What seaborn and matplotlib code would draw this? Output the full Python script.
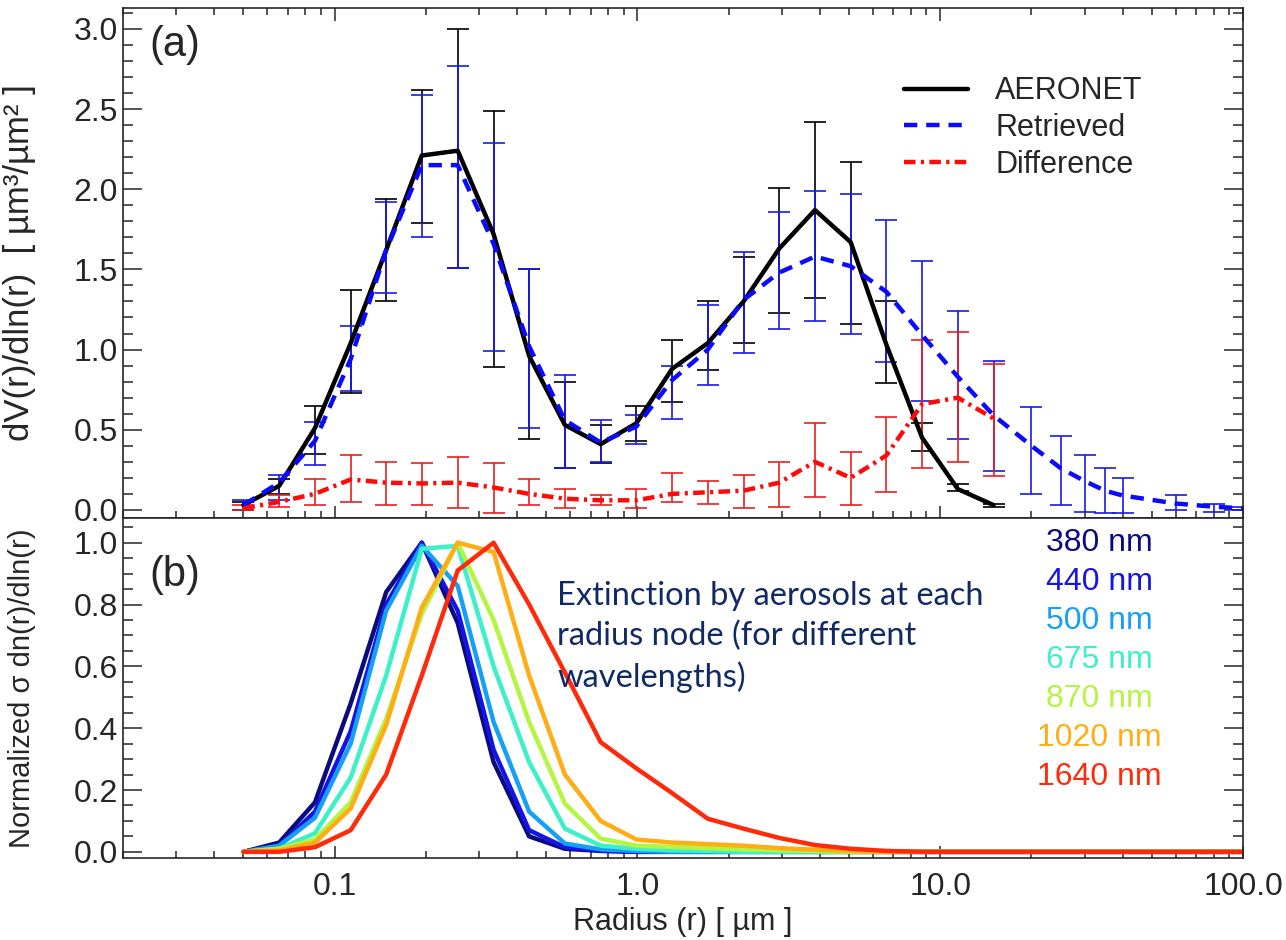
import matplotlib
matplotlib.use("Agg")
import matplotlib.pyplot as plt
import seaborn as sns
import numpy as np
import pandas as pd
from matplotlib.ticker import FixedLocator, LogLocator, MultipleLocator, NullFormatter

# radius nodes (AERONET 22 bins) and the extra retrieval nodes beyond 15 um
radius = [0.05, 0.0656, 0.0861, 0.113, 0.148, 0.194, 0.255, 0.335, 0.439, 0.576, 0.756,
          0.992, 1.302, 1.708, 2.241, 2.940, 3.857, 5.061, 6.641, 8.713, 11.432, 15.0]
radius_ext = [20, 25, 30, 35, 40, 60, 80, 100]

# panel (a)
aeronet = [0.03, 0.15, 0.51, 1.04, 1.62, 2.21, 2.24, 1.72, 0.96, 0.53, 0.41,
           0.54, 0.88, 1.04, 1.30, 1.63, 1.87, 1.67, 1.03, 0.45, 0.13, 0.03]
aeronet_lo = [0.00, 0.10, 0.35, 0.73, 1.30, 1.79, 1.51, 0.89, 0.44, 0.26, 0.29,
              0.43, 0.67, 0.87, 1.04, 1.23, 1.32, 1.16, 0.79, 0.37, 0.12, 0.02]
aeronet_hi = [0.05, 0.19, 0.65, 1.37, 1.94, 2.62, 3.00, 2.49, 1.50, 0.80, 0.53,
              0.65, 1.06, 1.30, 1.58, 2.01, 2.42, 2.17, 1.30, 0.54, 0.16, 0.04]

retrieved = [0.03, 0.17, 0.43, 0.94, 1.62, 2.15, 2.15, 1.66, 1.02, 0.56, 0.42,
             0.52, 0.81, 1.00, 1.31, 1.48, 1.58, 1.52, 1.36, 1.09, 0.83, 0.59,
             0.40, 0.26, 0.18, 0.12, 0.09, 0.04, 0.02, 0.01]
retrieved_lo = [0.00, 0.06, 0.28, 0.74, 1.35, 1.70, 1.51, 0.99, 0.51, 0.26, 0.30,
                0.41, 0.57, 0.78, 0.98, 1.13, 1.18, 1.10, 0.92, 0.68, 0.44, 0.24,
                0.10, 0.03, -0.01, -0.02, -0.02, 0.00, -0.01, 0.00]
retrieved_hi = [0.06, 0.22, 0.55, 1.15, 1.92, 2.59, 2.77, 2.29, 1.50, 0.84, 0.56,
                0.59, 0.90, 1.28, 1.61, 1.86, 1.99, 1.97, 1.81, 1.55, 1.24, 0.93,
                0.64, 0.46, 0.34, 0.26, 0.20, 0.09, 0.04, 0.02]

difference = [0.01, 0.05, 0.10, 0.19, 0.17, 0.165, 0.17, 0.14, 0.10, 0.07, 0.06,
              0.06, 0.10, 0.11, 0.12, 0.17, 0.30, 0.20, 0.34, 0.66, 0.70, 0.57]
difference_lo = [0.00, 0.02, 0.03, 0.05, 0.03, 0.03, 0.01, -0.02, 0.03, 0.01, 0.03,
                 0.01, 0.05, 0.04, 0.01, 0.02, 0.08, 0.03, 0.11, 0.26, 0.30, 0.21]
difference_hi = [0.03, 0.09, 0.19, 0.34, 0.30, 0.29, 0.33, 0.29, 0.19, 0.13, 0.09,
                 0.13, 0.23, 0.18, 0.22, 0.30, 0.54, 0.36, 0.58, 1.06, 1.11, 0.91]

# panel (b): normalized extinction per radius node
wavelengths = ["380 nm", "440 nm", "500 nm", "675 nm", "870 nm", "1020 nm", "1640 nm"]
wl_colors = ["#0b0b80", "#1414e6", "#16a0f5", "#3cf0c8", "#b4f542", "#ffad14", "#ff2a0a"]
ext_380 = [0.0, 0.03, 0.16, 0.48, 0.84, 1.0, 0.74, 0.29, 0.05, 0.01, 0.003, 0, 0, 0, 0,
           0, 0, 0, 0, 0, 0, 0, 0, 0, 0, 0, 0, 0, 0, 0]
ext_440 = [0.0, 0.02, 0.13, 0.39, 0.80, 1.0, 0.78, 0.33, 0.07, 0.015, 0.004, 0, 0, 0, 0,
           0, 0, 0, 0, 0, 0, 0, 0, 0, 0, 0, 0, 0, 0, 0]
ext_500 = [0.0, 0.02, 0.11, 0.35, 0.78, 0.99, 0.86, 0.42, 0.13, 0.027, 0.008, 0.003, 0, 0, 0,
           0, 0, 0, 0, 0, 0, 0, 0, 0, 0, 0, 0, 0, 0, 0]
ext_675 = [0.0, 0.01, 0.06, 0.24, 0.57, 0.98, 0.99, 0.60, 0.29, 0.075, 0.02, 0.01, 0.005, 0.003, 0,
           0, 0, 0, 0, 0, 0, 0, 0, 0, 0, 0, 0, 0, 0, 0]
ext_870 = [0.0, 0.01, 0.04, 0.16, 0.43, 0.77, 1.0, 0.75, 0.42, 0.156, 0.043, 0.02, 0.016, 0.012, 0.008,
           0.005, 0.003, 0, 0, 0, 0, 0, 0, 0, 0, 0, 0, 0, 0, 0]
ext_1020 = [0.0, 0.005, 0.03, 0.14, 0.41, 0.79, 1.0, 0.97, 0.57, 0.25, 0.10, 0.04, 0.03, 0.025, 0.02,
            0.012, 0.007, 0.003, 0, 0, 0, 0, 0, 0, 0, 0, 0, 0, 0, 0]
ext_1640 = [0.0, 0.0, 0.015, 0.07, 0.25, 0.57, 0.91, 1.0, 0.80, 0.58, 0.355, 0.27, 0.19, 0.107, 0.075,
            0.045, 0.022, 0.01, 0.003, 0, 0, 0, 0, 0, 0, 0, 0, 0, 0, 0]

sns.set_style("ticks")
plt.rcParams["font.family"] = ["Liberation Sans", "DejaVu Sans"]
plt.rcParams["font.size"] = 22

r_all = radius + radius_ext
df_a = pd.DataFrame({"r": radius, "aeronet": aeronet, "difference": difference})
df_ret = pd.DataFrame({"r": r_all, "retrieved": retrieved})
df_b = pd.DataFrame({
    "r": r_all * len(wavelengths),
    "val": ext_380 + ext_440 + ext_500 + ext_675 + ext_870 + ext_1020 + ext_1640,
    "wl": [w for w in wavelengths for _ in r_all],
})

fig = plt.figure(figsize=(12.86, 9.4), dpi=100)
ax1 = fig.add_axes([0.0956, 0.449, 0.871, 0.5425])
ax2 = fig.add_axes([0.0956, 0.0872, 0.871, 0.3618], sharex=ax1)

# --- panel (a)
def bars(ax, x, v, lo, hi, c):
    v = np.array(v)
    ax.errorbar(x, v, yerr=[v - np.array(lo), np.array(hi) - v], fmt="none",
                ecolor=c, elinewidth=1.2, capsize=8, capthick=1.2)

bars(ax1, radius, aeronet, aeronet_lo, aeronet_hi, "black")
bars(ax1, r_all, retrieved, retrieved_lo, retrieved_hi, "#1a1ae8")
bars(ax1, radius, difference, difference_lo, difference_hi, "#e82020")

sns.lineplot(data=df_a, x="r", y="aeronet", ax=ax1, color="black", lw=3.2, label="AERONET")
sns.lineplot(data=df_ret, x="r", y="retrieved", ax=ax1, color="#0a0aff", lw=3.2,
             linestyle=(0, (3, 2)), label="Retrieved")
sns.lineplot(data=df_a, x="r", y="difference", ax=ax1, color="#ff0a0a", lw=3.2,
             linestyle=(0, (2.6, 1.2, 0.7, 1.2)), label="Difference")

ax1.set_xscale("log")
ax1.set_xlim(0.02, 100)
ax1.yaxis.set_major_locator(FixedLocator([0.0, 0.5, 1.0, 1.5, 2.0, 2.5, 3.0]))
ax1.yaxis.set_minor_locator(MultipleLocator(0.1))
ax1.set_yticklabels(["0.0", "0.5", "1.0", "1.5", "2.0", "2.5", "3.0"])
ax1.set_ylim(-0.05, 3.13)
ax1.set_xlabel("")
ax1.set_ylabel("dV(r)/dln(r)  [ µm³/µm² ]", fontsize=25)
ax1.yaxis.set_label_coords(-0.078, 0.5)
ax1.tick_params(labelbottom=False)
ax1.text(0.024, 0.927, "(a)", transform=ax1.transAxes, fontsize=30, va="center")
ax1.legend(loc="upper left", bbox_to_anchor=(0.697, 0.866), frameon=False, fontsize=22,
           borderpad=0, borderaxespad=0, handlelength=2.1, handletextpad=0.9,
           labelspacing=0.22)

# --- panel (b)
sns.lineplot(data=df_b, x="r", y="val", hue="wl", hue_order=wavelengths,
             palette=wl_colors, ax=ax2, lw=3.2, legend=False, sort=False)
ax2.set_ylim(-0.02, 1.08)
ax2.yaxis.set_major_locator(FixedLocator([0.0, 0.2, 0.4, 0.6, 0.8, 1.0]))
ax2.yaxis.set_minor_locator(MultipleLocator(0.05))
ax2.set_yticklabels(["0.0", "0.2", "0.4", "0.6", "0.8", "1.0"])
ax2.set_ylabel("Normalized σ dn(r)/dln(r)", fontsize=21)
ax2.yaxis.set_label_coords(-0.078, 0.5)
ax2.set_xlabel("Radius (r) [ µm ]", fontsize=22, labelpad=4)
ax2.xaxis.set_major_locator(FixedLocator([0.1, 1, 10, 100]))
ax2.xaxis.set_minor_locator(LogLocator(base=10, subs=np.arange(2, 10), numticks=20))
ax2.xaxis.set_minor_formatter(NullFormatter())
ax2.set_xticklabels(["0.1", "1.0", "10.0", "100.0"])
ax2.set_xlim(0.02, 100)
ax2.text(0.024, 0.832, "(b)", transform=ax2.transAxes, fontsize=30, va="center")

for i, (w, c) in enumerate(zip(wavelengths, wl_colors)):
    ax2.text(0.872, 0.926 - i * 0.1147, w, color=c, transform=ax2.transAxes,
             ha="center", va="center", fontsize=23)

ax2.text(0.3875, 0.815, "Extinction by aerosols at each\nradius node (for different\nwavelengths)",
         transform=ax2.transAxes, ha="left", va="top", fontsize=23.5, color="#102a66",
         family=["Lato", "DejaVu Sans"], linespacing=1.4)

for ax in (ax1, ax2):
    for s in ax.spines.values():
        s.set_linewidth(1.2)
        s.set_visible(True)
    ax.tick_params(axis="both", which="both", direction="in", top=True, right=True,
                   width=1.1, labelsize=23)
    ax.tick_params(axis="y", which="major", length=14)
    ax.tick_params(axis="y", which="minor", length=7)
    ax.tick_params(axis="x", which="major", length=9, pad=10)
    ax.tick_params(axis="x", which="minor", length=5)
ax2.tick_params(axis="x", which="both", top=False)

fig.savefig("out.png", dpi=100)
